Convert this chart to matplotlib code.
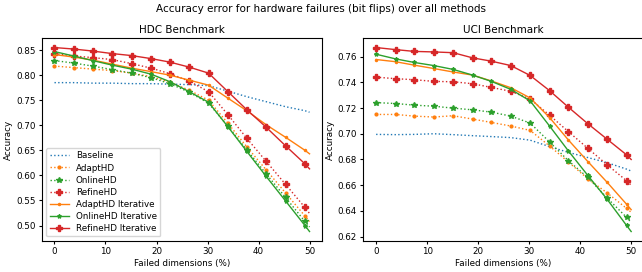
import numpy as np
import matplotlib.pyplot as plt

# failed dimensions (%) -- marker positions plus the line end at 50
failed = [0, 3.8, 7.5, 11.3, 15.1, 18.9, 22.6, 26.4, 30.2, 34.0, 37.7, 41.5, 45.3, 49.1, 50]

# HDC benchmark ------------------------------------------------
hdc_baseline = [0.785, 0.785, 0.784, 0.784, 0.783, 0.783, 0.782, 0.781, 0.779, 0.768, 0.757, 0.747, 0.737, 0.729, 0.726]
hdc_adapt = [0.818, 0.815, 0.812, 0.809, 0.804, 0.797, 0.786, 0.770, 0.750, 0.704, 0.657, 0.611, 0.565, 0.519, 0.508]
hdc_online = [0.829, 0.824, 0.818, 0.811, 0.804, 0.795, 0.783, 0.766, 0.744, 0.698, 0.651, 0.603, 0.556, 0.508, 0.497]
hdc_refine = [0.843, 0.838, 0.835, 0.831, 0.823, 0.814, 0.803, 0.788, 0.767, 0.721, 0.674, 0.628, 0.582, 0.536, 0.524]
hdc_adapt_it = [0.841, 0.836, 0.830, 0.822, 0.814, 0.807, 0.800, 0.790, 0.780, 0.754, 0.729, 0.701, 0.676, 0.650, 0.643]
hdc_online_it = [0.847, 0.838, 0.829, 0.820, 0.812, 0.802, 0.787, 0.767, 0.746, 0.697, 0.648, 0.598, 0.549, 0.500, 0.488]
hdc_refine_it = [0.855, 0.852, 0.848, 0.843, 0.839, 0.833, 0.826, 0.816, 0.804, 0.767, 0.731, 0.696, 0.659, 0.623, 0.613]

# UCI benchmark ------------------------------------------------
uci_baseline = [0.6995, 0.6993, 0.6995, 0.7000, 0.6993, 0.6985, 0.6978, 0.6970, 0.6950, 0.6900, 0.6855, 0.6815, 0.6775, 0.6725, 0.6710]
uci_adapt = [0.7150, 0.7150, 0.7137, 0.7130, 0.7140, 0.7114, 0.7088, 0.7060, 0.7026, 0.6905, 0.6780, 0.6650, 0.6540, 0.6420, 0.6390]
uci_online = [0.7242, 0.7235, 0.7222, 0.7214, 0.7199, 0.7186, 0.7168, 0.7137, 0.7083, 0.6936, 0.6790, 0.6660, 0.6500, 0.6350, 0.6310]
uci_refine = [0.7440, 0.7428, 0.7420, 0.7407, 0.7404, 0.7389, 0.7360, 0.7330, 0.7270, 0.7144, 0.7016, 0.6887, 0.6758, 0.6635, 0.6600]
uci_adapt_it = [0.7577, 0.7560, 0.7533, 0.7507, 0.7480, 0.7456, 0.7410, 0.7358, 0.7278, 0.7126, 0.6951, 0.6784, 0.6622, 0.6452, 0.6410]
uci_online_it = [0.7618, 0.7582, 0.7554, 0.7530, 0.7500, 0.7456, 0.7407, 0.7345, 0.7255, 0.7060, 0.6866, 0.6676, 0.6490, 0.6287, 0.6240]
uci_refine_it = [0.7670, 0.7654, 0.7640, 0.7636, 0.7630, 0.7590, 0.7564, 0.7530, 0.7453, 0.7335, 0.7206, 0.7078, 0.6957, 0.6836, 0.6800]

fs = 6.3
plt.rcParams['font.size'] = fs

fig = plt.figure(figsize=(6.42, 2.72), dpi=100)
ax1 = fig.add_axes([0.065, 0.115, 0.437, 0.744])
ax2 = fig.add_axes([0.566, 0.115, 0.437, 0.744])

mk = list(range(14))


def draw(ax, base, adapt, online, refine, adapt_it, online_it, refine_it):
    ax.plot(failed, base, ':', color='tab:blue', lw=1.0, label='Baseline')
    ax.plot(failed, adapt, ':', color='tab:orange', lw=1.0, marker='.', ms=4, markevery=mk, label='AdaptHD')
    ax.plot(failed, online, ':', color='tab:green', lw=1.0, marker='*', ms=4, markevery=mk, label='OnlineHD')
    ax.plot(failed, refine, ':', color='tab:red', lw=1.0, marker='P', ms=4, markevery=mk, label='RefineHD')
    ax.plot(failed, adapt_it, '-', color='tab:orange', lw=1.0, marker='.', ms=3, markevery=mk, label='AdaptHD Iterative')
    ax.plot(failed, online_it, '-', color='tab:green', lw=1.0, marker='*', ms=3, markevery=mk, label='OnlineHD Iterative')
    ax.plot(failed, refine_it, '-', color='tab:red', lw=1.0, marker='P', ms=4, markevery=mk, label='RefineHD Iterative')
    ax.set_xlabel('Failed dimensions (%)', fontsize=fs, labelpad=2)
    ax.set_ylabel('Accuracy', fontsize=fs, labelpad=2)
    ax.tick_params(labelsize=fs, length=2.5, pad=2)
    ax.set_xticks([0, 10, 20, 30, 40, 50])


draw(ax1, hdc_baseline, hdc_adapt, hdc_online, hdc_refine, hdc_adapt_it, hdc_online_it, hdc_refine_it)
ax1.set_title('HDC Benchmark', fontsize=7.5, pad=4)
ax1.set_yticks(np.arange(0.50, 0.851, 0.05))
ax1.legend(loc='lower left', fontsize=fs, handlelength=2.2, labelspacing=0.35)

draw(ax2, uci_baseline, uci_adapt, uci_online, uci_refine, uci_adapt_it, uci_online_it, uci_refine_it)
ax2.set_title('UCI Benchmark', fontsize=7.5, pad=4)
ax2.set_yticks(np.arange(0.62, 0.761, 0.02))

fig.suptitle('Accuracy error for hardware failures (bit flips) over all methods', fontsize=7.5, y=0.985)

plt.savefig('out.png', dpi=100)
